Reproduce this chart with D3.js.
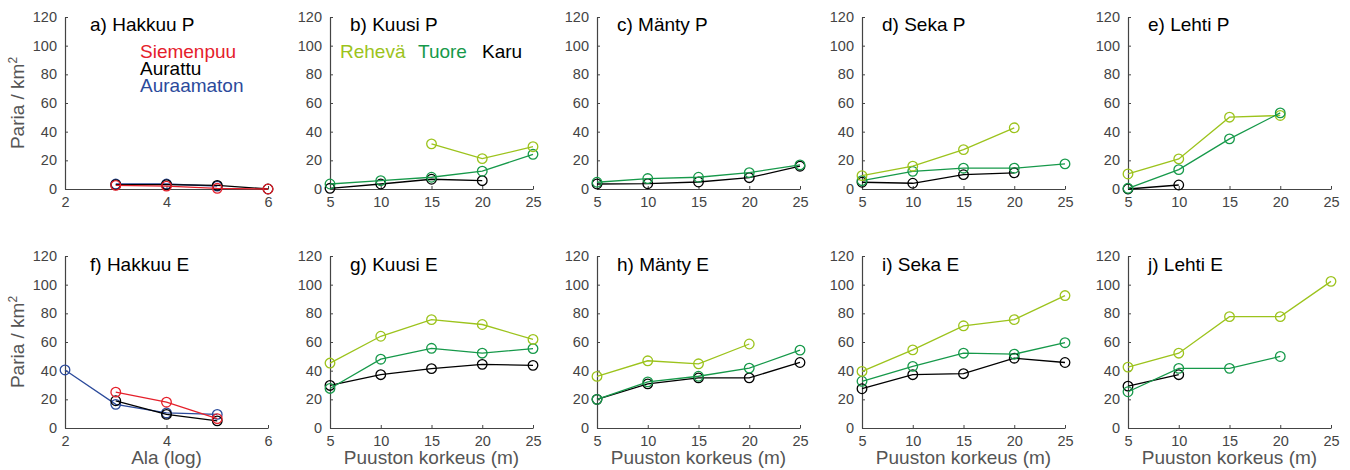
<!DOCTYPE html>
<html>
<head>
<meta charset="utf-8">
<script src="https://cdn.jsdelivr.net/npm/d3@7"></script>
<style>
  body { margin: 0; background: #fff; }
  svg { font-family: "Liberation Sans", Arial, Helvetica, sans-serif; }
</style>
</head>
<body>
<svg id="svg" width="1350" height="470"></svg>
<script>
/*global d3*/

// x values
const alaX = [2, 3, 4, 5, 6];
const korkeusX = [5, 10, 15, 20, 25];

// hakkuu panels (a, f): Siemenpuu, Aurattu, Auraamaton
const siemenpuuP = [null, 2.5, 2, 0.5, 0];
const aurattuP = [null, 3, 3, 2.5, 0];
const auraamatonP = [null, 3.5, 3.5, 2, null];
const siemenpuuE = [null, 25, 18, 6.5, null];
const aurattuE = [null, 19, 9.5, 5, null];
const auraamatonE = [40.5, 16.5, 10.5, 9.5, null];

// forest panels: Rehevä, Tuore, Karu
const kuusiPRehea = [null, null, 31.5, 21.2, 29.5];
const kuusiPTuore = [3.5, 5.8, 8.2, 12.4, 24.2];
const kuusiPKaru = [0.5, 3.5, 6.8, 5.8, null];

const mantyPRehea = [null, null, null, null, null];
const mantyPTuore = [4.7, 7.3, 8.2, 11.4, 16.8];
const mantyPKaru = [3.5, 3.7, 4.9, 7.9, 15.9];

const sekaPRehea = [9.3, 15.9, 27.5, 42.7, null];
const sekaPTuore = [5.8, 12.3, 14.5, 14.5, 17.5];
const sekaPKaru = [4.7, 4, 10, 11.3, null];

const lehtiPRehea = [10.5, 21, 50.1, 51.3, null];
const lehtiPTuore = [0.5, 13.5, 35, 53.1, null];
const lehtiPKaru = [0, 2.8, null, null, null];

const kuusiERehea = [45.3, 64, 75.6, 72.2, 61.8];
const kuusiETuore = [27.6, 48, 55.6, 52.2, 55.4];
const kuusiEKaru = [29.7, 37.2, 41.4, 44.4, 43.7];

const mantyERehea = [36, 46.9, 44.8, 58.6, null];
const mantyETuore = [20, 32.2, 36.1, 41.8, 54.3];
const mantyEKaru = [20, 30.8, 35, 35, 45.7];

const sekaERehea = [39.5, 54.5, 71.3, 75.6, 92.4];
const sekaETuore = [32.6, 43, 52.2, 51.5, 59.5];
const sekaEKaru = [27.4, 37.2, 37.9, 48.7, 45.7];

const lehtiERehea = [42.5, 52.2, 77.7, 77.7, 102.3];
const lehtiETuore = [25.3, 41.6, 41.6, 49.9, null];
const lehtiEKaru = [29.2, 37.2, null, null, null];

// labels
const titles = ['a) Hakkuu P', 'b) Kuusi P', 'c) Mänty P', 'd) Seka P', 'e) Lehti P',
                'f) Hakkuu E', 'g) Kuusi E', 'h) Mänty E', 'i) Seka E', 'j) Lehti E'];
const hakkuuNames = ['Siemenpuu', 'Aurattu', 'Auraamaton'];
const metsaNames = ['Rehevä', 'Tuore', 'Karu'];
const yTicks = [0, 20, 40, 60, 80, 100, 120];
const alaTicks = [2, 4, 6];
const korkeusTicks = [5, 10, 15, 20, 25];

const hakkuuColors = {Siemenpuu: '#e5202b', Aurattu: '#000000', Auraamaton: '#2b4a9b'};
const metsaColors = {'Rehevä': '#9cc31c', Tuore: '#16994a', Karu: '#000000'};

const panels = [
  {col: 0, row: 0, x: alaX, series: [['Auraamaton', auraamatonP], ['Aurattu', aurattuP], ['Siemenpuu', siemenpuuP]]},
  {col: 1, row: 0, x: korkeusX, series: [['Karu', kuusiPKaru], ['Tuore', kuusiPTuore], ['Rehevä', kuusiPRehea]]},
  {col: 2, row: 0, x: korkeusX, series: [['Karu', mantyPKaru], ['Tuore', mantyPTuore], ['Rehevä', mantyPRehea]]},
  {col: 3, row: 0, x: korkeusX, series: [['Karu', sekaPKaru], ['Tuore', sekaPTuore], ['Rehevä', sekaPRehea]]},
  {col: 4, row: 0, x: korkeusX, series: [['Karu', lehtiPKaru], ['Rehevä', lehtiPRehea], ['Tuore', lehtiPTuore]]},
  {col: 0, row: 1, x: alaX, series: [['Auraamaton', auraamatonE], ['Aurattu', aurattuE], ['Siemenpuu', siemenpuuE]]},
  {col: 1, row: 1, x: korkeusX, series: [['Karu', kuusiEKaru], ['Tuore', kuusiETuore], ['Rehevä', kuusiERehea]]},
  {col: 2, row: 1, x: korkeusX, series: [['Karu', mantyEKaru], ['Tuore', mantyETuore], ['Rehevä', mantyERehea]]},
  {col: 3, row: 1, x: korkeusX, series: [['Karu', sekaEKaru], ['Tuore', sekaETuore], ['Rehevä', sekaERehea]]},
  {col: 4, row: 1, x: korkeusX, series: [['Karu', lehtiEKaru], ['Tuore', lehtiETuore], ['Rehevä', lehtiERehea]]}
];

const svg = d3.select('#svg');
const pw = 203, ph = 172;
const lefts = [65, 330, 597, 862, 1128];
const tops = [17, 256];
const axisCol = '#444';

const yScale = d3.scaleLinear().domain([0, 120]).range([ph, 0]);

panels.forEach((p, i) => {
  const hakkuu = p.col === 0;
  const xScale = d3.scaleLinear().domain(hakkuu ? [2, 6] : [5, 25]).range([0, pw]);
  const g = svg.append('g').attr('transform', `translate(${lefts[p.col]},${tops[p.row]})`);

  const yAxis = d3.axisLeft(yScale).tickValues(yTicks).tickFormat(d3.format('d'))
    .tickSizeInner(-3).tickSizeOuter(0).tickPadding(8);
  const xAxis = d3.axisBottom(xScale).tickValues(hakkuu ? alaTicks : korkeusTicks)
    .tickFormat(d3.format('d'))
    .tickSizeInner(-3).tickSizeOuter(0).tickPadding(8);

  [g.append('g').call(yAxis), g.append('g').attr('transform', `translate(0,${ph})`).call(xAxis)]
    .forEach(a => {
      a.selectAll('.domain').attr('stroke', axisCol).attr('stroke-width', 1.2);
      a.selectAll('.tick line').attr('stroke', axisCol);
      a.selectAll('.tick text').attr('fill', axisCol).style('font-size', '14.5px');
    });

  const line = d3.line()
    .defined(d => d[1] != null)
    .x(d => xScale(d[0]))
    .y(d => yScale(d[1]));

  p.series.forEach(([name, vals]) => {
    const col = hakkuu ? hakkuuColors[name] : metsaColors[name];
    const pts = p.x.map((x, k) => [x, vals[k]]);
    g.append('path').datum(pts)
      .attr('d', line).attr('fill', 'none')
      .attr('stroke', col).attr('stroke-width', 1.3);
    g.selectAll(null).data(pts.filter(d => d[1] != null)).enter()
      .append('circle')
      .attr('cx', d => xScale(d[0])).attr('cy', d => yScale(d[1]))
      .attr('r', 4.8).attr('fill', 'none')
      .attr('stroke', col).attr('stroke-width', 1.3);
  });

  g.append('text')
    .attr('x', hakkuu ? 25 : 20).attr('y', p.row === 0 ? 14 : 15)
    .style('font-size', '19px').attr('fill', '#000')
    .text(titles[i]);

  if (p.col === 0) {
    const yl = g.append('text')
      .attr('transform', `translate(-41,${ph / 2}) rotate(-90)`)
      .attr('text-anchor', 'middle')
      .style('font-size', '19px').attr('fill', '#555');
    yl.append('tspan').text('Paria / km');
    yl.append('tspan').attr('dy', -7).style('font-size', '12px').text('2');
  }
  if (p.row === 1) {
    g.append('text')
      .attr('x', pw / 2).attr('y', ph + 36)
      .attr('text-anchor', 'middle')
      .style('font-size', '19px').attr('fill', '#555')
      .text(hakkuu ? 'Ala (log)' : 'Puuston korkeus (m)');
  }
});

// legends
const legA = svg.append('text').attr('x', 140).attr('y', 58).style('font-size', '19px');
hakkuuNames.forEach((n, k) => {
  legA.append('tspan').attr('x', 140).attr('dy', k === 0 ? 0 : 17)
    .attr('fill', hakkuuColors[n]).text(n);
});
const legBx = [340, 418, 482];
metsaNames.forEach((n, k) => {
  svg.append('text').attr('x', legBx[k]).attr('y', 58).style('font-size', '19px')
    .attr('fill', metsaColors[n]).text(n);
});
</script>
</body>
</html>
